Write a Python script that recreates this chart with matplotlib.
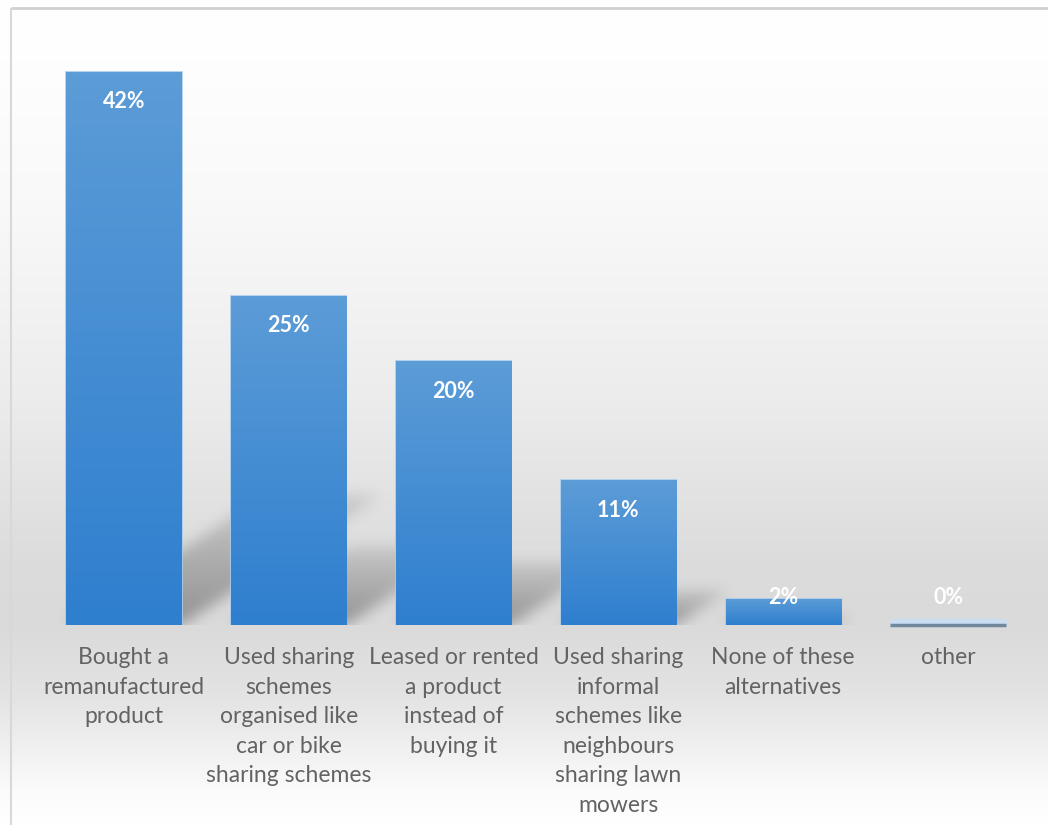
import matplotlib
matplotlib.use('Agg')
import matplotlib.pyplot as plt
import numpy as np
from matplotlib.colors import LinearSegmentedColormap

# ── data ─────────────────────────────────────────────────────────────────────
CATEGORIES = [
    'Bought a\nremanufactured\nproduct',
    'Used sharing\nschemes\norganised like\ncar or bike\nsharing schemes',
    'Leased or rented\na product\ninstead of\nbuying it',
    'Used sharing\ninformal\nschemes like\nneighbours\nsharing lawn\nmowers',
    'None of these\nalternatives',
    'other',
]
SHARES = [42, 25, 20, 11, 2, 0]   # percent of respondents

# ── style ────────────────────────────────────────────────────────────────────
W, H, DPI = 1048, 825, 100
FONT = 'Lato'
LABEL_GREY = '#636363'
BAR_TOP = '#5c9cd7'
BAR_BOT = '#2f7fcf'
BAR_W = 0.70
YMAX = 45

fig = plt.figure(figsize=(W / DPI, H / DPI), dpi=DPI)

# background: vertical grey gradient across the whole chart area + frame
bg = fig.add_axes([0, 0, 1, 1], zorder=0)
stops_px = np.array([0, 60, 200, 400, 560, 625, 700, 790, 825])
stops_v = np.array([255, 254, 249, 236, 220, 218, 228, 251, 255]) / 255
rows = np.interp(np.arange(H), stops_px, stops_v)
grad = np.repeat(rows[:, None], 4, axis=1)
bg.imshow(np.dstack([grad] * 3), extent=[0, W, H, 0], aspect='auto',
          interpolation='bilinear')
bg.plot([11, W], [7.5, 7.5], color='#d0d0d0', lw=2, solid_capstyle='butt')
bg.plot([11, 11], [7.5, H], color='#d8d8d8', lw=1.5, solid_capstyle='butt')
bg.set_xlim(0, W)
bg.set_ylim(H, 0)
bg.axis('off')

# plot area
left, right, base, top = 41.5, 1030.5, 625, 32
ax = fig.add_axes([left / W, (H - base) / H, (right - left) / W,
                   (base - top) / H], zorder=1)
ax.patch.set_alpha(0)
x = np.arange(len(SHARES))
ax.set_xlim(-0.5, len(SHARES) - 0.5)
ax.set_ylim(0, YMAX)

# perspective shadows cast up and to the right of each bar, softened by a blur
nx, ny = int(right - left), int(base - top)
gx = np.linspace(-0.5, len(SHARES) - 0.5, nx)
gy = np.linspace(YMAX, 0, ny)
XX, YY = np.meshgrid(gx, gy)
shade = np.zeros_like(XX)
for xi, v in zip(x, SHARES):
    if v <= 0:
        continue
    sy = 0.235 * v          # shadow reach (data units)
    sx = 0.0288 * v         # sideways lean (category units)
    lean = YY * sx / sy
    inside = ((YY >= 0) & (YY <= sy) &
              (XX >= xi - BAR_W / 2 + lean) & (XX <= xi + BAR_W / 2 + lean))
    fade = 1 - 0.7 * np.clip(YY / sy, 0, 1)
    shade = np.maximum(shade, inside * fade)

k = np.arange(-18, 19)
kern = np.exp(-0.5 * (k / 7.0) ** 2)
kern /= kern.sum()
shade = np.apply_along_axis(lambda r: np.convolve(r, kern, mode='same'), 1, shade)
shade = np.apply_along_axis(lambda c: np.convolve(c, kern, mode='same'), 0, shade)
rgba = np.zeros((ny, nx, 4))
rgba[..., :3] = 0.25
rgba[..., 3] = 0.46 * shade
ax.imshow(rgba, extent=[-0.5, len(SHARES) - 0.5, 0, YMAX], aspect='auto',
          origin='upper', zorder=1, interpolation='bilinear')

# bars with a light-to-dark vertical fill
bars = ax.bar(x, SHARES, width=BAR_W, color='none', edgecolor='#a9cbed',
              linewidth=1.2, zorder=3)
bar_cmap = LinearSegmentedColormap.from_list('bar', [BAR_BOT, BAR_TOP])
for rect, v in zip(bars, SHARES):
    if v <= 0:
        rect.set_visible(False)
        continue
    x0 = rect.get_x()
    fill = ax.imshow(np.linspace(1, 0, 64)[:, None], cmap=bar_cmap,
                     extent=[x0, x0 + BAR_W, 0, v], aspect='auto',
                     origin='upper', zorder=3.5, interpolation='bilinear')
    fill.set_clip_path(rect)

# zero-height bar shows up as a flat line on the baseline
for xi, v in zip(x, SHARES):
    if v == 0:
        ax.plot([xi - BAR_W / 2, xi + BAR_W / 2], [0.2, 0.2],
                color='#c9def2', lw=5, zorder=3, solid_capstyle='butt',
                clip_on=False)
        ax.plot([xi - BAR_W / 2, xi + BAR_W / 2], [0, 0],
                color='#70879e', lw=2.5, zorder=4, solid_capstyle='butt',
                clip_on=False)

# value labels just inside the top of each bar
for xi, v in zip(x, SHARES):
    ax.text(xi, max(v - 2.3, 2.1), f'{v}%', ha='center', va='center',
            color='white', fontsize=15.5, fontweight='bold', family=FONT,
            zorder=5)

ax.set_xticks(x)
ax.set_xticklabels(CATEGORIES, fontsize=16.5, color=LABEL_GREY, family=FONT,
                   linespacing=1.5, va='top')
ax.tick_params(axis='x', length=0, pad=16)
ax.set_yticks([])
for s in ax.spines.values():
    s.set_visible(False)

fig.savefig('out.png', dpi=DPI)
